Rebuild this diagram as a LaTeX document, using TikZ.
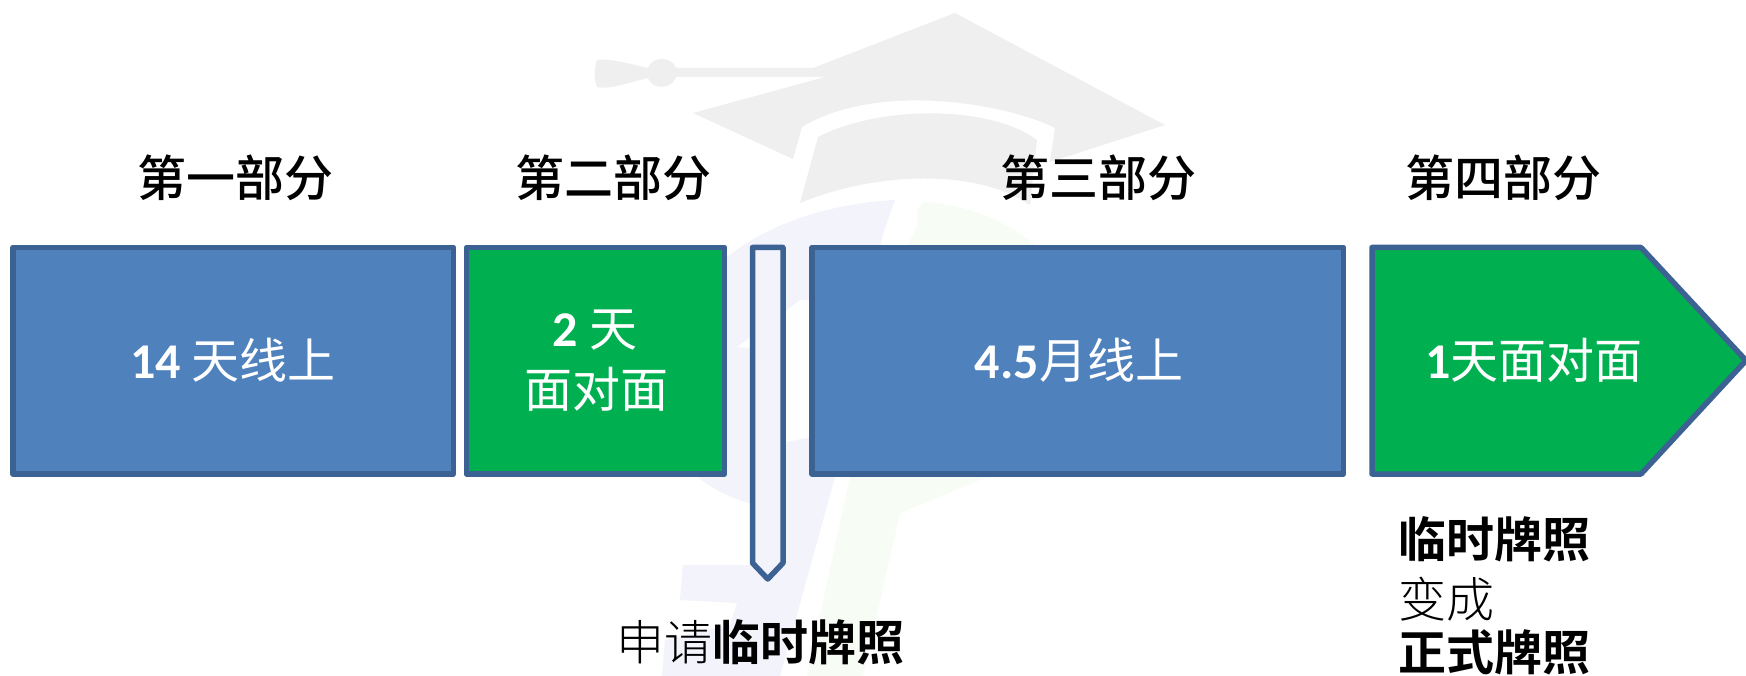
\documentclass[tikz,border=0pt]{standalone}
\usepackage{fontspec}
\setmainfont{Carlito}
\newfontfamily\cjk{Noto Sans CJK SC}
\newfontfamily\cjkmid{Noto Sans CJK SC Medium}
\newfontfamily\cjkbold{Noto Sans CJK SC Bold}
\newfontfamily\cjklight{Noto Sans CJK SC Light}
\definecolor{edgeblue}{HTML}{3C6293}
\definecolor{fillblue}{HTML}{4F81BD}
\definecolor{fillgreen}{HTML}{00B050}
\definecolor{hatgray}{HTML}{EFEFEF}
\definecolor{paleblue}{HTML}{F2F3FB}
\definecolor{palegreen}{HTML}{F7FCF5}
\tikzset{
  x=1pt,y=-1pt,
  blockshape/.style={draw=edgeblue,line width=5.5pt,line join=round},
  bluefill/.style={blockshape,fill=fillblue},
  greenfill/.style={blockshape,fill=fillgreen},
  headtext/.style={font=\fontsize{49}{49}\selectfont\cjkmid,text=black,inner sep=0pt},
  boxtext/.style={font=\fontsize{48}{48}\selectfont\cjk,text=white,inner sep=0pt},
  darktext/.style={font=\fontsize{48}{48}\selectfont\cjklight,text=black,inner sep=0pt,anchor=west},
}
\newcommand{\numtxt}[1]{{\fontsize{50}{50}\selectfont\rmfamily\bfseries #1}}
\newcommand{\midtxt}[1]{{\cjkbold #1}}
\begin{document}
\begin{tikzpicture}
\useasboundingbox (0,0) rectangle (1746,676);
\clip (0,0) rectangle (1746,676);
\fill[white] (0,0) rectangle (1746,676);
% watermark: mortarboard
\fill[hatgray] (955,13) -- (1165,125) -- (1050,162) -- (1055,128)
  .. controls (1010,105) and (880,80) .. (802,127) -- (793,159) -- (693,113) -- (825,77) -- (813,68) -- cycle;
\fill[hatgray] (597,60) .. controls (610,58) and (630,64) .. (648,68)
  .. controls (652,56) and (672,56) .. (676,68) -- (815,68) -- (825,77) -- (676,77)
  .. controls (672,90) and (652,90) .. (648,78) .. controls (630,82) and (610,90) .. (597,87)
  .. controls (594,80) and (594,68) .. (597,60) -- cycle;
\fill[hatgray] (818,137) .. controls (880,105) and (990,105) .. (1037,140) -- (1030,205)
  .. controls (980,170) and (880,170) .. (800,203) -- cycle;
% watermark: pale blue and green logo
\fill[palegreen] (918,225) .. controls (916,212) and (918,205) .. (925,202)
  .. controls (970,205) and (1015,225) .. (1040,250) -- (1020,400) -- (987,477) -- (900,513)
  -- (863,676) -- (807,676) -- (850,477) -- (880,300) -- cycle;
\fill[paleblue,even odd rule]
  (690,300) .. controls (720,245) and (800,205) .. (895,200) -- (883,233) -- (870,300) -- (835,477) -- (780,676)
  -- (662,676) -- (665,640) -- (730,625) -- (737,603) -- (680,600) -- (683,565) -- (752,565) -- (763,507)
  .. controls (735,500) and (710,490) .. (690,470) -- cycle
  (737,347) -- (800,300) -- (865,300) -- (845,430) -- (763,447) -- (775,350) -- cycle;
% blocks
\path[bluefill] (13,247.5) rectangle (453.5,474);
\node[boxtext] (t1) at (233,360) {\numtxt{14} 天线上};
\path[greenfill] (466.5,247.5) rectangle (724.5,474);
\node[boxtext] (t2a) at (595,330) {\numtxt{2} 天};
\node[boxtext] (t2b) at (596,389) {面对面};
\path[blockshape,fill=paleblue] (752.5,247.5) -- (783,247.5) -- (783,563) -- (767.75,579) -- (752.5,563) -- cycle;
\path[bluefill] (812,247.5) rectangle (1343.5,474);
\node[boxtext] (t3) at (1079,360) {\numtxt{4.5}月线上};
\path[greenfill] (1372,247.5) -- (1641,247.5) -- (1746,360.5) -- (1641,474) -- (1372,474) -- cycle;
\node[boxtext] (t4) at (1534,360) {\numtxt{1}天面对面};
% labels
\node[headtext] (h1) at (235.5,178) {第一部分};
\node[headtext] (h2) at (613.5,178) {第二部分};
\node[headtext] (h3) at (1098,178) {第三部分};
\node[headtext] (h4) at (1503,178) {第四部分};
\node[darktext,anchor=center] (a) at (760.5,642) {申请\midtxt{临时牌照}};
\node[darktext] (b1) at (1398,539) {\midtxt{临时牌照}};
\node[darktext] (b2) at (1398,599) {变成};
\node[darktext] (b3) at (1398,652) {\midtxt{正式牌照}};
\end{tikzpicture}
\end{document}
